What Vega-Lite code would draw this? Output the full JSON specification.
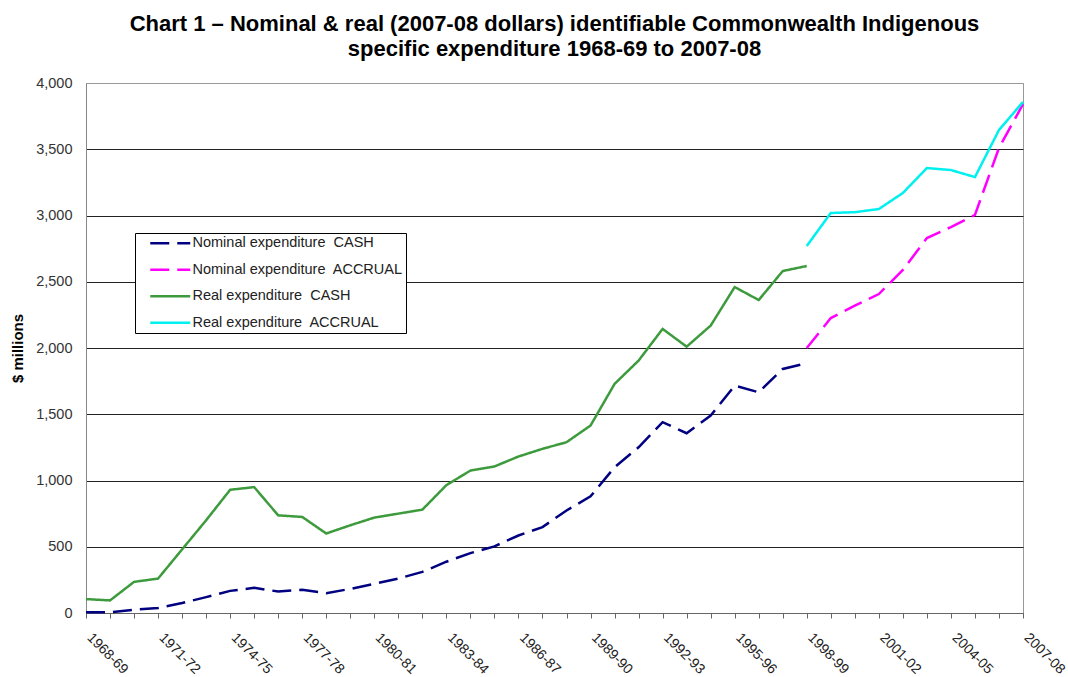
{
  "$schema": "https://vega.github.io/schema/vega-lite/v6.json",
  "width": 937,
  "height": 530,
  "autosize": {"type": "none"},
  "padding": {"left": 86, "top": 83, "right": 45, "bottom": 64},
  "background": "white",
  "title": {
    "text": ["Chart 1 – Nominal & real (2007-08 dollars) identifiable Commonwealth Indigenous", "specific expenditure 1968-69 to 2007-08"],
    "font": "Liberation Sans",
    "fontSize": 22,
    "fontWeight": "bold",
    "color": "#000000",
    "anchor": "middle",
    "frame": "group",
    "offset": 14,
    "lineHeight": 25
  },
  "config": {
    "view": {"stroke": "#999999", "strokeWidth": 1},
    "font": "Liberation Sans"
  },
  "data": {
    "values": [
      {"year": "1968-69", "series": "Nominal expenditure CASH", "value": 5},
      {"year": "1969-70", "series": "Nominal expenditure CASH", "value": 5},
      {"year": "1970-71", "series": "Nominal expenditure CASH", "value": 25},
      {"year": "1971-72", "series": "Nominal expenditure CASH", "value": 37},
      {"year": "1972-73", "series": "Nominal expenditure CASH", "value": 75},
      {"year": "1973-74", "series": "Nominal expenditure CASH", "value": 120},
      {"year": "1974-75", "series": "Nominal expenditure CASH", "value": 167},
      {"year": "1975-76", "series": "Nominal expenditure CASH", "value": 190},
      {"year": "1976-77", "series": "Nominal expenditure CASH", "value": 162},
      {"year": "1977-78", "series": "Nominal expenditure CASH", "value": 175},
      {"year": "1978-79", "series": "Nominal expenditure CASH", "value": 150},
      {"year": "1979-80", "series": "Nominal expenditure CASH", "value": 182},
      {"year": "1980-81", "series": "Nominal expenditure CASH", "value": 220},
      {"year": "1981-82", "series": "Nominal expenditure CASH", "value": 260},
      {"year": "1982-83", "series": "Nominal expenditure CASH", "value": 310},
      {"year": "1983-84", "series": "Nominal expenditure CASH", "value": 387},
      {"year": "1984-85", "series": "Nominal expenditure CASH", "value": 452},
      {"year": "1985-86", "series": "Nominal expenditure CASH", "value": 503},
      {"year": "1986-87", "series": "Nominal expenditure CASH", "value": 585},
      {"year": "1987-88", "series": "Nominal expenditure CASH", "value": 648},
      {"year": "1988-89", "series": "Nominal expenditure CASH", "value": 774},
      {"year": "1989-90", "series": "Nominal expenditure CASH", "value": 880},
      {"year": "1990-91", "series": "Nominal expenditure CASH", "value": 1100},
      {"year": "1991-92", "series": "Nominal expenditure CASH", "value": 1251},
      {"year": "1992-93", "series": "Nominal expenditure CASH", "value": 1440},
      {"year": "1993-94", "series": "Nominal expenditure CASH", "value": 1357},
      {"year": "1994-95", "series": "Nominal expenditure CASH", "value": 1490},
      {"year": "1995-96", "series": "Nominal expenditure CASH", "value": 1716},
      {"year": "1996-97", "series": "Nominal expenditure CASH", "value": 1666},
      {"year": "1997-98", "series": "Nominal expenditure CASH", "value": 1842},
      {"year": "1998-99", "series": "Nominal expenditure CASH", "value": 1885},
      {"year": "1998-99", "series": "Nominal expenditure ACCRUAL", "value": 2000},
      {"year": "1999-00", "series": "Nominal expenditure ACCRUAL", "value": 2226},
      {"year": "2000-01", "series": "Nominal expenditure ACCRUAL", "value": 2319},
      {"year": "2001-02", "series": "Nominal expenditure ACCRUAL", "value": 2407},
      {"year": "2002-03", "series": "Nominal expenditure ACCRUAL", "value": 2589},
      {"year": "2003-04", "series": "Nominal expenditure ACCRUAL", "value": 2830},
      {"year": "2004-05", "series": "Nominal expenditure ACCRUAL", "value": 2913},
      {"year": "2005-06", "series": "Nominal expenditure ACCRUAL", "value": 3004},
      {"year": "2006-07", "series": "Nominal expenditure ACCRUAL", "value": 3510},
      {"year": "2007-08", "series": "Nominal expenditure ACCRUAL", "value": 3840},
      {"year": "1968-69", "series": "Real expenditure CASH", "value": 105},
      {"year": "1969-70", "series": "Real expenditure CASH", "value": 95},
      {"year": "1970-71", "series": "Real expenditure CASH", "value": 235},
      {"year": "1971-72", "series": "Real expenditure CASH", "value": 260},
      {"year": "1972-73", "series": "Real expenditure CASH", "value": 480},
      {"year": "1973-74", "series": "Real expenditure CASH", "value": 700},
      {"year": "1974-75", "series": "Real expenditure CASH", "value": 930},
      {"year": "1975-76", "series": "Real expenditure CASH", "value": 950},
      {"year": "1976-77", "series": "Real expenditure CASH", "value": 737},
      {"year": "1977-78", "series": "Real expenditure CASH", "value": 725},
      {"year": "1978-79", "series": "Real expenditure CASH", "value": 600},
      {"year": "1979-80", "series": "Real expenditure CASH", "value": 662},
      {"year": "1980-81", "series": "Real expenditure CASH", "value": 720},
      {"year": "1981-82", "series": "Real expenditure CASH", "value": 750},
      {"year": "1982-83", "series": "Real expenditure CASH", "value": 780},
      {"year": "1983-84", "series": "Real expenditure CASH", "value": 965},
      {"year": "1984-85", "series": "Real expenditure CASH", "value": 1075},
      {"year": "1985-86", "series": "Real expenditure CASH", "value": 1106},
      {"year": "1986-87", "series": "Real expenditure CASH", "value": 1181},
      {"year": "1987-88", "series": "Real expenditure CASH", "value": 1239},
      {"year": "1988-89", "series": "Real expenditure CASH", "value": 1289},
      {"year": "1989-90", "series": "Real expenditure CASH", "value": 1415},
      {"year": "1990-91", "series": "Real expenditure CASH", "value": 1729},
      {"year": "1991-92", "series": "Real expenditure CASH", "value": 1905},
      {"year": "1992-93", "series": "Real expenditure CASH", "value": 2144},
      {"year": "1993-94", "series": "Real expenditure CASH", "value": 2010},
      {"year": "1994-95", "series": "Real expenditure CASH", "value": 2169},
      {"year": "1995-96", "series": "Real expenditure CASH", "value": 2460},
      {"year": "1996-97", "series": "Real expenditure CASH", "value": 2362},
      {"year": "1997-98", "series": "Real expenditure CASH", "value": 2581},
      {"year": "1998-99", "series": "Real expenditure CASH", "value": 2619},
      {"year": "1998-99", "series": "Real expenditure ACCRUAL", "value": 2770},
      {"year": "1999-00", "series": "Real expenditure ACCRUAL", "value": 3019},
      {"year": "2000-01", "series": "Real expenditure ACCRUAL", "value": 3025},
      {"year": "2001-02", "series": "Real expenditure ACCRUAL", "value": 3049},
      {"year": "2002-03", "series": "Real expenditure ACCRUAL", "value": 3170},
      {"year": "2003-04", "series": "Real expenditure ACCRUAL", "value": 3358},
      {"year": "2004-05", "series": "Real expenditure ACCRUAL", "value": 3343},
      {"year": "2005-06", "series": "Real expenditure ACCRUAL", "value": 3290},
      {"year": "2006-07", "series": "Real expenditure ACCRUAL", "value": 3645},
      {"year": "2007-08", "series": "Real expenditure ACCRUAL", "value": 3857}
    ]
  },
  "mark": {"type": "line", "strokeWidth": 2.5},
  "encoding": {
    "x": {
      "field": "year",
      "type": "ordinal",
      "scale": {"type": "point", "padding": 0},
      "axis": {
        "title": null,
        "labelAngle": 45,
        "labelAlign": "left",
        "labelBaseline": "alphabetic",
        "labelExpr": "(toNumber(slice(datum.value,0,4))-1968)%3==0 ? datum.value : ''",
        "tickSize": 5,
        "tickColor": "#666666",
        "domainColor": "#666666",
        "labelFont": "Liberation Sans",
        "labelFontSize": 14,
        "labelColor": "#222222",
        "labelPadding": 20,
        "grid": false
      }
    },
    "y": {
      "field": "value",
      "type": "quantitative",
      "scale": {"domain": [0, 4000]},
      "axis": {
        "values": [0, 500, 1000, 1500, 2000, 2500, 3000, 3500, 4000],
        "format": ",.0f",
        "title": "$ millions",
        "titleFont": "Liberation Sans",
        "titleFontSize": 15,
        "titleFontWeight": "bold",
        "titleColor": "#000000",
        "titleX": -61,
        "titleY": 265,
        "titleAlign": "center",
        "titleAngle": -90,
        "titleBaseline": "bottom",
        "ticks": false,
        "labelPadding": 14,
        "labelFont": "Liberation Sans",
        "labelFontSize": 14.5,
        "labelColor": "#333333",
        "domainColor": "#888888",
        "grid": true,
        "gridColor": {"condition": {"test": "datum.value === 4000", "value": "#999999"}, "value": "#222222"},
        "gridOpacity": 1
      }
    },
    "color": {
      "field": "series",
      "type": "nominal",
      "scale": {
        "domain": ["Nominal expenditure CASH", "Nominal expenditure ACCRUAL", "Real expenditure CASH", "Real expenditure ACCRUAL"],
        "range": ["#000080", "#ff00ff", "#3d9b3d", "#00f0f0"]
      },
      "legend": {
        "title": null,
        "orient": "none",
        "legendX": 49,
        "legendY": 150,
        "fillColor": "white",
        "strokeColor": "#000000",
        "padding": 3,
        "symbolType": "M1,0H9",
        "symbolSize": 100,
        "symbolStrokeWidth": 2.5,
        "labelFont": "Liberation Sans",
        "labelFontSize": 14.5,
        "labelColor": "#222222",
        "labelOffset": 40,
        "labelLimit": 400,
        "rowPadding": 11.5,
        "labelExpr": "replace(datum.label, 'expenditure ', 'expenditure\u00a0 ')"
      }
    },
    "strokeDash": {
      "field": "series",
      "type": "nominal",
      "scale": {
        "domain": ["Nominal expenditure CASH", "Nominal expenditure ACCRUAL", "Real expenditure CASH", "Real expenditure ACCRUAL"],
        "range": [[19, 8], [19, 8], [1, 0], [1, 0]]
      },
      "legend": {
        "title": null,
        "orient": "none",
        "legendX": 49,
        "legendY": 150,
        "fillColor": "white",
        "strokeColor": "#000000",
        "padding": 3,
        "symbolType": "M1,0H9",
        "symbolSize": 100,
        "symbolStrokeWidth": 2.5,
        "labelFont": "Liberation Sans",
        "labelFontSize": 14.5,
        "labelColor": "#222222",
        "labelOffset": 40,
        "labelLimit": 400,
        "rowPadding": 11.5,
        "labelExpr": "replace(datum.label, 'expenditure ', 'expenditure\u00a0 ')"
      }
    }
  }
}
